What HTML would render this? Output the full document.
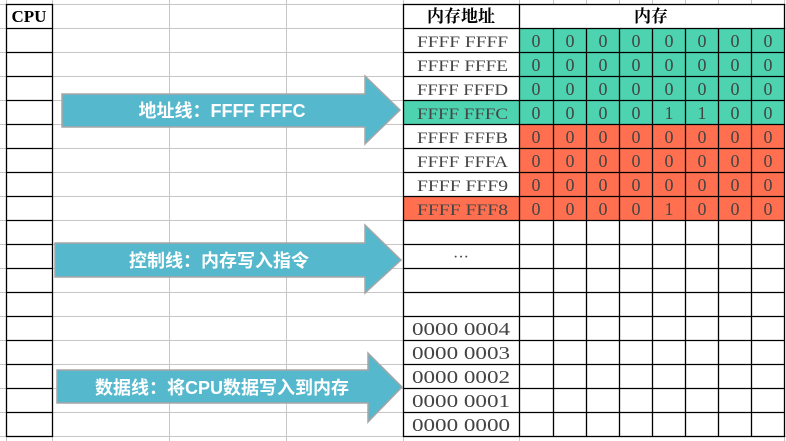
<!DOCTYPE html>
<html><head><meta charset="utf-8"><style>
html,body{margin:0;padding:0;background:#fff;width:786px;height:441px;overflow:hidden}
svg{display:block}
.s{font-family:"Liberation Serif","Noto Serif CJK SC",serif;fill:#444;font-size:16px;white-space:pre}
.h{font-family:"Liberation Serif","Noto Serif CJK SC",serif;font-weight:bold;fill:#000;font-size:17px}
.a{font-family:"Liberation Sans","Noto Sans CJK SC",sans-serif;font-weight:bold;fill:#fff;font-size:18px}
</style></head><body>
<svg width="786" height="441" viewBox="0 0 786 441" xmlns="http://www.w3.org/2000/svg">
<rect x="519" y="28" width="265" height="96" fill="#4dd3b0"/>
<rect x="403" y="100" width="116" height="24" fill="#4dd3b0"/>
<rect x="519" y="124" width="265" height="96" fill="#ff6f50"/>
<rect x="403" y="196" width="116" height="24" fill="#ff6f50"/>
<g stroke="#c6c6c6" stroke-width="1">
<line x1="0" y1="4.5" x2="786" y2="4.5"/>
<line x1="0" y1="28.5" x2="786" y2="28.5"/><line x1="0" y1="52.5" x2="403" y2="52.5"/><line x1="0" y1="76.5" x2="403" y2="76.5"/><line x1="0" y1="100.5" x2="403" y2="100.5"/><line x1="0" y1="124.5" x2="403" y2="124.5"/><line x1="0" y1="148.5" x2="403" y2="148.5"/><line x1="0" y1="172.5" x2="403" y2="172.5"/><line x1="0" y1="196.5" x2="403" y2="196.5"/><line x1="0" y1="220.5" x2="403" y2="220.5"/><line x1="0" y1="244.5" x2="403" y2="244.5"/><line x1="0" y1="268.5" x2="403" y2="268.5"/><line x1="0" y1="292.5" x2="403" y2="292.5"/><line x1="0" y1="316.5" x2="403" y2="316.5"/><line x1="0" y1="340.5" x2="403" y2="340.5"/><line x1="0" y1="364.5" x2="403" y2="364.5"/><line x1="0" y1="388.5" x2="403" y2="388.5"/><line x1="0" y1="412.5" x2="403" y2="412.5"/><line x1="0" y1="436.5" x2="786" y2="436.5"/>
<line x1="169.5" y1="0" x2="169.5" y2="441"/><line x1="286.5" y1="0" x2="286.5" y2="441"/>
<line x1="6.5" y1="0" x2="6.5" y2="441"/><line x1="52.5" y1="0" x2="52.5" y2="441"/>
<line x1="403.5" y1="0" x2="403.5" y2="441"/><line x1="519.5" y1="0" x2="519.5" y2="441"/>
<line x1="553.5" y1="0" x2="553.5" y2="4"/><line x1="586.5" y1="0" x2="586.5" y2="4"/><line x1="619.5" y1="0" x2="619.5" y2="4"/><line x1="652.5" y1="0" x2="652.5" y2="4"/><line x1="685.5" y1="0" x2="685.5" y2="4"/><line x1="718.5" y1="0" x2="718.5" y2="4"/><line x1="751.5" y1="0" x2="751.5" y2="4"/><line x1="784.5" y1="0" x2="784.5" y2="441"/>
</g>
<g stroke="#000" stroke-width="1.3">
<rect x="6.5" y="4.5" width="46" height="432" fill="none"/>
<line x1="6" y1="28.5" x2="53" y2="28.5"/><line x1="6" y1="52.5" x2="53" y2="52.5"/><line x1="6" y1="76.5" x2="53" y2="76.5"/><line x1="6" y1="100.5" x2="53" y2="100.5"/><line x1="6" y1="124.5" x2="53" y2="124.5"/><line x1="6" y1="148.5" x2="53" y2="148.5"/><line x1="6" y1="172.5" x2="53" y2="172.5"/><line x1="6" y1="196.5" x2="53" y2="196.5"/><line x1="6" y1="220.5" x2="53" y2="220.5"/><line x1="6" y1="244.5" x2="53" y2="244.5"/><line x1="6" y1="268.5" x2="53" y2="268.5"/><line x1="6" y1="292.5" x2="53" y2="292.5"/><line x1="6" y1="316.5" x2="53" y2="316.5"/><line x1="6" y1="340.5" x2="53" y2="340.5"/><line x1="6" y1="364.5" x2="53" y2="364.5"/><line x1="6" y1="388.5" x2="53" y2="388.5"/><line x1="6" y1="412.5" x2="53" y2="412.5"/>
<rect x="403.5" y="4.5" width="381" height="432" fill="none"/>
<line x1="403" y1="28.5" x2="785" y2="28.5"/><line x1="403" y1="52.5" x2="785" y2="52.5"/><line x1="403" y1="76.5" x2="785" y2="76.5"/><line x1="403" y1="100.5" x2="785" y2="100.5"/><line x1="403" y1="124.5" x2="785" y2="124.5"/><line x1="403" y1="148.5" x2="785" y2="148.5"/><line x1="403" y1="172.5" x2="785" y2="172.5"/><line x1="403" y1="196.5" x2="785" y2="196.5"/><line x1="403" y1="220.5" x2="785" y2="220.5"/><line x1="403" y1="244.5" x2="785" y2="244.5"/><line x1="403" y1="268.5" x2="785" y2="268.5"/><line x1="403" y1="292.5" x2="785" y2="292.5"/><line x1="403" y1="316.5" x2="785" y2="316.5"/><line x1="403" y1="340.5" x2="785" y2="340.5"/><line x1="403" y1="364.5" x2="785" y2="364.5"/><line x1="403" y1="388.5" x2="785" y2="388.5"/><line x1="403" y1="412.5" x2="785" y2="412.5"/>
<line x1="519.5" y1="4" x2="519.5" y2="437"/>
<line x1="553.5" y1="28" x2="553.5" y2="437"/><line x1="586.5" y1="28" x2="586.5" y2="437"/><line x1="619.5" y1="28" x2="619.5" y2="437"/><line x1="652.5" y1="28" x2="652.5" y2="437"/><line x1="685.5" y1="28" x2="685.5" y2="437"/><line x1="718.5" y1="28" x2="718.5" y2="437"/><line x1="751.5" y1="28" x2="751.5" y2="437"/>
</g>
<text class="h" x="29" y="22" text-anchor="middle">CPU</text>
<text class="h" x="461" y="22" text-anchor="middle">内存地址</text>
<text class="h" x="651" y="22" text-anchor="middle">内存</text>
<g class="s" style="font-size:16px">
<text x="417" y="47" textLength="91" lengthAdjust="spacingAndGlyphs">FFFF  FFFF</text><text x="417" y="71" textLength="91" lengthAdjust="spacingAndGlyphs">FFFF  FFFE</text><text x="417" y="95" textLength="91" lengthAdjust="spacingAndGlyphs">FFFF  FFFD</text><text x="417" y="119" textLength="91" lengthAdjust="spacingAndGlyphs">FFFF  FFFC</text>
<text x="417" y="143" textLength="91" lengthAdjust="spacingAndGlyphs">FFFF  FFFB</text><text x="417" y="167" textLength="91" lengthAdjust="spacingAndGlyphs">FFFF  FFFA</text><text x="417" y="191" textLength="91" lengthAdjust="spacingAndGlyphs">FFFF  FFF9</text><text x="417" y="215" textLength="91" lengthAdjust="spacingAndGlyphs">FFFF  FFF8</text>
<text x="461" y="262" text-anchor="middle">···</text>
</g>
<g class="s" style="font-size:18px">
<text x="412" y="335" textLength="98" lengthAdjust="spacingAndGlyphs">0000  0004</text><text x="412" y="359" textLength="98" lengthAdjust="spacingAndGlyphs">0000  0003</text><text x="412" y="383" textLength="98" lengthAdjust="spacingAndGlyphs">0000  0002</text><text x="412" y="407" textLength="98" lengthAdjust="spacingAndGlyphs">0000  0001</text><text x="412" y="431" textLength="98" lengthAdjust="spacingAndGlyphs">0000  0000</text>
</g>
<g class="s" text-anchor="middle" style="font-size:18px">
<text x="536" y="47">0</text><text x="570" y="47">0</text><text x="603" y="47">0</text><text x="636" y="47">0</text><text x="669" y="47">0</text><text x="702" y="47">0</text><text x="735" y="47">0</text><text x="768" y="47">0</text>
<text x="536" y="71">0</text><text x="570" y="71">0</text><text x="603" y="71">0</text><text x="636" y="71">0</text><text x="669" y="71">0</text><text x="702" y="71">0</text><text x="735" y="71">0</text><text x="768" y="71">0</text>
<text x="536" y="95">0</text><text x="570" y="95">0</text><text x="603" y="95">0</text><text x="636" y="95">0</text><text x="669" y="95">0</text><text x="702" y="95">0</text><text x="735" y="95">0</text><text x="768" y="95">0</text>
<text x="536" y="119">0</text><text x="570" y="119">0</text><text x="603" y="119">0</text><text x="636" y="119">0</text><text x="669" y="119">1</text><text x="702" y="119">1</text><text x="735" y="119">0</text><text x="768" y="119">0</text>
<text x="536" y="143">0</text><text x="570" y="143">0</text><text x="603" y="143">0</text><text x="636" y="143">0</text><text x="669" y="143">0</text><text x="702" y="143">0</text><text x="735" y="143">0</text><text x="768" y="143">0</text>
<text x="536" y="167">0</text><text x="570" y="167">0</text><text x="603" y="167">0</text><text x="636" y="167">0</text><text x="669" y="167">0</text><text x="702" y="167">0</text><text x="735" y="167">0</text><text x="768" y="167">0</text>
<text x="536" y="191">0</text><text x="570" y="191">0</text><text x="603" y="191">0</text><text x="636" y="191">0</text><text x="669" y="191">0</text><text x="702" y="191">0</text><text x="735" y="191">0</text><text x="768" y="191">0</text>
<text x="536" y="215">0</text><text x="570" y="215">0</text><text x="603" y="215">0</text><text x="636" y="215">0</text><text x="669" y="215">1</text><text x="702" y="215">0</text><text x="735" y="215">0</text><text x="768" y="215">0</text>
</g>
<g fill="#55b8cd" stroke="#a6a6a6" stroke-width="1.5">
<polygon points="62,94 365,94 365,76 400,110 365,144 365,127 62,127"/>
<polygon points="55,243 365,243 365,225 401,260 365,293 365,277 55,277"/>
<polygon points="57,370 368,370 368,353 402,387 368,422 368,403 57,403"/>
</g>
<text class="a" x="222" y="117" text-anchor="middle">地址线：FFFF FFFC</text>
<text class="a" x="219" y="267" text-anchor="middle">控制线：内存写入指令</text>
<text class="a" x="222" y="394" text-anchor="middle">数据线：将CPU数据写入到内存</text>
</svg>
</body></html>
